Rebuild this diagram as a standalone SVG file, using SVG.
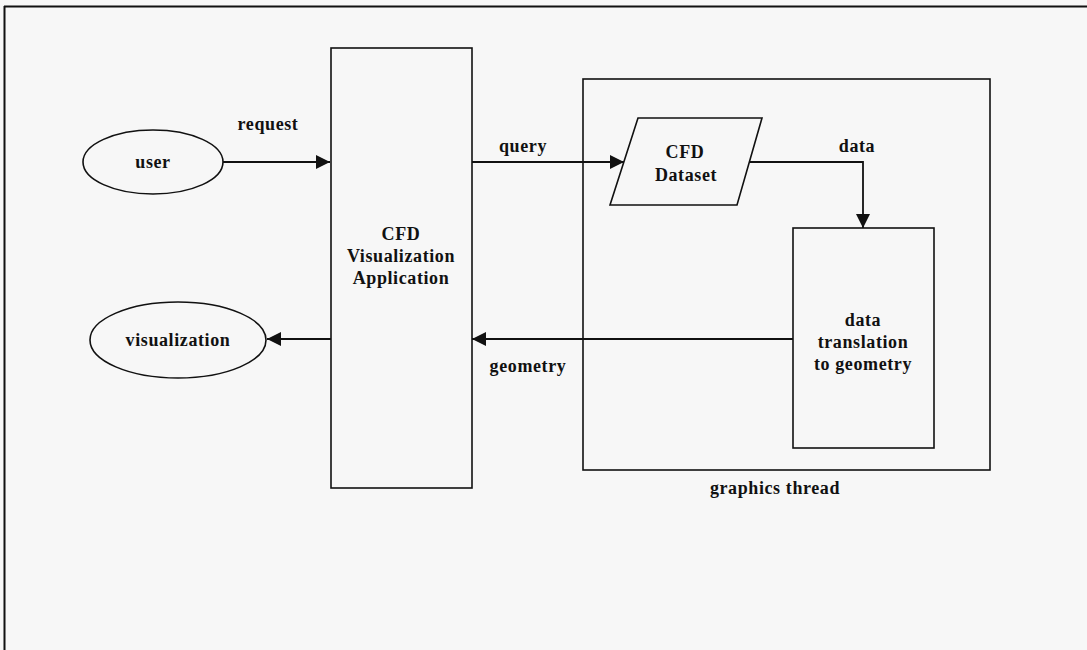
<svg xmlns="http://www.w3.org/2000/svg" width="1087" height="650" viewBox="0 0 1087 650">
<defs>
<style>
text{font-family:"Liberation Serif","Times New Roman",serif;font-weight:bold;font-size:18px;letter-spacing:0.6px;fill:#111;text-anchor:middle}
.s{fill:none;stroke:#111;stroke-width:1.6}
.c{fill:none;stroke:#111;stroke-width:1.8}
</style>
<marker id="ah" viewBox="0 0 10 10" refX="10" refY="5" markerWidth="20" markerHeight="14" markerUnits="userSpaceOnUse" orient="auto">
<path d="M0,0 L10,5 L0,10 z" fill="#111"/>
</marker>
</defs>
<rect width="1087" height="650" fill="#f7f7f7"/>
<g id="frame">
<line x1="4" y1="6.5" x2="1087" y2="6.5" stroke="#111" stroke-width="2.2"/>
<line x1="4.5" y1="6" x2="4.5" y2="650" stroke="#111" stroke-width="2"/>
</g>
<g id="graphics-thread">
<rect class="s" x="583" y="79" width="407" height="391"/>
<text x="775" y="494">graphics thread</text>
</g>
<g id="user">
<ellipse class="s" cx="153" cy="162" rx="70" ry="32"/>
<text x="153" y="168">user</text>
</g>
<g id="visualization">
<ellipse class="s" cx="178" cy="340" rx="88" ry="38"/>
<text x="178" y="346">visualization</text>
</g>
<g id="cfd-app">
<rect class="s" x="331" y="48" width="141" height="440"/>
<text x="401" y="240">CFD</text>
<text x="401" y="262">Visualization</text>
<text x="401" y="284">Application</text>
</g>
<g id="cfd-dataset">
<polygon class="s" points="638,118 762,118 737,205 610,205"/>
<text x="685" y="158">CFD</text>
<text x="686" y="181">Dataset</text>
</g>
<g id="data-translation">
<rect class="s" x="793" y="228" width="141" height="220"/>
<text x="863" y="326">data</text>
<text x="863" y="348">translation</text>
<text x="863" y="370">to geometry</text>
</g>
<g id="connectors">
<line class="c" x1="223" y1="162" x2="330" y2="162" marker-end="url(#ah)"/>
<text x="268" y="130">request</text>
<line class="c" x1="472" y1="162" x2="624" y2="162" marker-end="url(#ah)"/>
<text x="523" y="152">query</text>
<polyline class="c" points="750,162 863,162 863,228" marker-end="url(#ah)"/>
<text x="857" y="152">data</text>
<line class="c" x1="793" y1="339" x2="472" y2="339" marker-end="url(#ah)"/>
<text x="528" y="372">geometry</text>
<line class="c" x1="331" y1="339" x2="267" y2="339" marker-end="url(#ah)"/>
</g>
</svg>
